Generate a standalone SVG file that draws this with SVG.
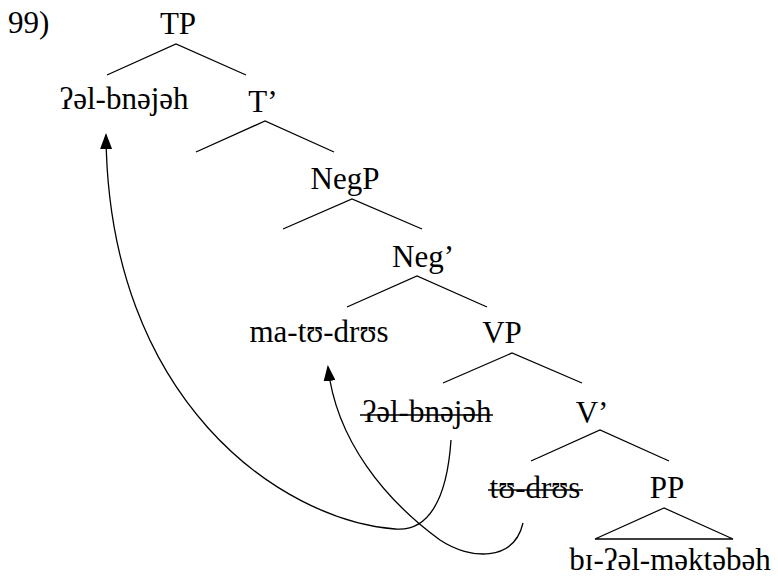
<svg xmlns="http://www.w3.org/2000/svg" width="778" height="579" viewBox="0 0 778 579">
  <style>
    text { font-family: "Liberation Serif", "Times New Roman", "DejaVu Serif", serif; font-size: 31px; fill: #000; }
    .mid { text-anchor: middle; }
    .branch { stroke: #000; stroke-width: 1.3; fill: none; }
    .strike { stroke: #000; stroke-width: 1.6; }
    .move { stroke: #000; stroke-width: 1.3; fill: none; marker-end: url(#head); }
  </style>
  <defs>
    <marker id="head" viewBox="0 0 16 12" refX="14" refY="6" markerWidth="16" markerHeight="12" markerUnits="userSpaceOnUse" orient="auto">
      <path d="M0,0 L16,6 L0,12 Z" fill="#000"/>
    </marker>
  </defs>

  <rect width="778" height="579" fill="#fff"/>

  <text x="8" y="33">99)</text>

  <g id="tp">
    <text class="mid" x="178" y="34">TP</text>
    <polyline class="branch" points="107,75 176,44 246,75"/>
  </g>
  <g id="spec-tp">
    <text class="mid" x="124" y="109">ʔəl-bnəjəh</text>
  </g>
  <g id="t-bar">
    <text class="mid" x="263" y="112">T’</text>
    <polyline class="branch" points="196,152 265,121 334,152"/>
  </g>
  <g id="negp">
    <text class="mid" x="345" y="189">NegP</text>
    <polyline class="branch" points="283,229 352,199 422,229"/>
  </g>
  <g id="neg-bar">
    <text class="mid" x="423" y="267">Neg’</text>
    <polyline class="branch" points="347,307 417,276 487,307"/>
  </g>
  <g id="neg-head">
    <text class="mid" x="319" y="342">ma-tʊ-drʊs</text>
  </g>
  <g id="vp">
    <text class="mid" x="502" y="343">VP</text>
    <polyline class="branch" points="443,383 512,353 582,383"/>
  </g>
  <g id="spec-vp">
    <text class="mid" x="427" y="422">ʔəl-bnəjəh</text>
    <line class="strike" x1="360" y1="415" x2="493" y2="415"/>
  </g>
  <g id="v-bar">
    <text class="mid" x="592" y="423">V’</text>
    <polyline class="branch" points="531,461 600,430 669,461"/>
  </g>
  <g id="v-head">
    <text class="mid" x="535" y="498">tʊ-drʊs</text>
    <line class="strike" x1="488" y1="490" x2="583" y2="490"/>
  </g>
  <g id="pp">
    <text class="mid" x="667" y="498">PP</text>
    <polygon class="branch" points="664,508 595,539 733,539"/>
  </g>
  <g id="pp-content">
    <text class="mid" x="670" y="570">bɪ-ʔəl-məktəbəh</text>
  </g>

  <g id="connectors">
    <!-- subject raising: spec VP to spec TP -->
    <path class="move" d="M451,440 C447,500 428,532 395,529 C280,520 108,400 106,135"/>
    <!-- verb raising: V to Neg -->
    <path class="move" d="M523,523 C514,562 470,560 440,540 C385,500 336,440 328,367"/>
  </g>
</svg>
